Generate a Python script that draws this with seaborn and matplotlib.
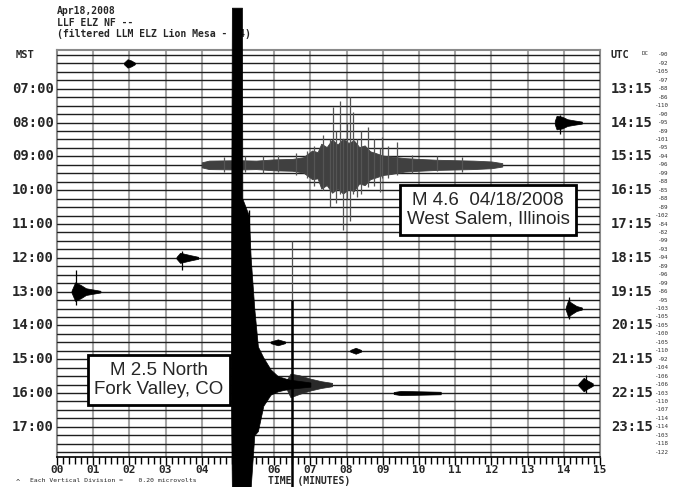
import numpy as np
import pandas as pd
import seaborn as sns
import matplotlib
matplotlib.use("Agg")
from matplotlib import pyplot as plt

# ---- chart values ----
n_traces = 48
mst_labels = ["07:00", "08:00", "09:00", "10:00", "11:00", "12:00",
              "13:00", "14:00", "15:00", "16:00", "17:00"]
utc_labels = ["13:15", "14:15", "15:15", "16:15", "17:15", "18:15",
              "19:15", "20:15", "21:15", "22:15", "23:15"]
dc_values = [-90, -92, -105, -97, -88, -86, -110, -90, -95, -89, -101, -95,
             -94, -96, -99, -88, -85, -88, -89, -102, -84, -82, -99, -93,
             -94, -89, -96, -99, -86, -95, -103, -105, -105, -100, -105, -110,
             -92, -104, -106, -106, -103, -110, -107, -114, -114, -103, -118, -122]
minute_ticks = ["00", "01", "02", "03", "04", "05", "06", "07",
                "08", "09", "10", "11", "12", "13", "14", "15"]

# M 4.6 West Salem event (trace 13): envelope, minutes / up / down (trace units)
wsalem_row = 13
wsalem_min = [4.0, 4.2, 5.0, 5.5, 6.0, 6.5, 6.8, 7.05, 7.2, 7.3, 7.45, 7.6, 7.75, 7.9,
              8.05, 8.2, 8.35, 8.5, 8.65, 8.8, 9.0, 9.2, 9.6, 10.0, 10.5, 11.0, 11.5, 12.0, 12.3]
wsalem_up = [0.3, 0.5, 0.55, 0.5, 0.65, 0.7, 0.9, 1.7, 1.5, 2.5, 2.1, 3.0, 2.4, 3.1,
             2.6, 2.9, 2.1, 2.3, 1.6, 1.4, 1.1, 1.0, 0.8, 0.7, 0.6, 0.55, 0.5, 0.4, 0.2]
wsalem_dn = [0.3, 0.5, 0.55, 0.5, 0.65, 0.7, 0.9, 1.7, 1.6, 2.8, 2.4, 3.3, 2.8, 3.4,
             2.9, 3.1, 2.2, 2.4, 1.7, 1.5, 1.2, 1.1, 0.8, 0.7, 0.6, 0.55, 0.5, 0.4, 0.2]
wsalem_spike_min = [4.6, 5.2, 5.7, 6.1, 6.6, 6.9, 7.1, 7.35, 7.54, 7.62, 7.7, 7.82, 7.9,
                    8.0, 8.1, 8.18, 8.29, 8.4, 8.59, 8.75, 8.92, 8.98, 9.15, 9.39, 9.8, 10.5, 11.2]
wsalem_spike_up = [0.9, 1.0, 1.1, 1.2, 1.4, 1.6, 2.2, 3.5, 3.0, 6.9, 4.0, 7.5, 3.0,
                   5.0, 8.0, 6.3, 3.0, 4.0, 4.5, 3.0, 2.0, 3.3, 2.2, 2.7, 1.2, 1.0, 0.9]
wsalem_spike_dn = [0.8, 0.9, 1.0, 0.8, 1.2, 1.5, 2.5, 3.0, 5.0, 3.2, 4.5, 3.5, 7.7,
                   4.0, 6.7, 3.4, 3.8, 3.5, 2.6, 2.5, 3.2, 1.5, 1.6, 1.2, 1.0, 0.7, 0.8]

# M 2.5 North Fork Valley event (trace 39), saturating the drum
nfv_row = 39
nfv_min = [4.80, 4.83, 5.11, 5.12, 5.30, 5.35, 5.45, 5.55, 5.70, 5.90, 6.10, 6.40, 7.00]
nfv_up = [0.15, 44.6, 44.6, 22.0, 20.0, 15.0, 9.0, 4.5, 3.2, 1.8, 1.0, 0.6, 0.25]
nfv_dn = [0.15, 12.2, 12.2, 12.2, 12.2, 12.2, 6.0, 5.5, 2.5, 1.2, 0.8, 0.5, 0.25]
after_min = [6.0, 6.35, 6.45, 6.7, 7.0, 7.3, 7.6]
after_up = [0.3, 0.6, 1.3, 1.1, 0.7, 0.4, 0.2]
after_dn = [0.3, 0.6, 1.5, 1.1, 0.7, 0.4, 0.2]

# smaller arrivals: (trace, minutes, half amplitude)
small_events = [
    (1, [1.85, 1.95, 2.05, 2.15], [0.1, 0.5, 0.35, 0.1]),
    (8, [13.75, 13.8, 13.95, 14.1, 14.3, 14.5], [0.2, 0.8, 0.7, 0.4, 0.25, 0.12]),
    (24, [3.3, 3.4, 3.55, 3.7, 3.9], [0.1, 0.6, 0.45, 0.3, 0.12]),
    (28, [0.4, 0.5, 0.65, 0.8, 1.0, 1.2], [0.1, 1.1, 0.8, 0.4, 0.25, 0.1]),
    (30, [14.05, 14.12, 14.2, 14.35, 14.5], [0.1, 1.0, 0.7, 0.3, 0.12]),
    (39, [14.4, 14.55, 14.65, 14.8], [0.1, 0.8, 0.5, 0.15]),
    (35, [8.1, 8.25, 8.4], [0.1, 0.35, 0.1]),
    (34, [5.9, 6.1, 6.3], [0.1, 0.35, 0.1]),
    (40, [9.3, 9.5, 10.6], [0.12, 0.25, 0.15]),
]
# short spikes riding on those arrivals: (trace, minute, up, down)
small_spikes = [(8, 13.9, 0.9, 1.3), (24, 3.45, 0.8, 1.5), (28, 0.52, 2.6, 1.6),
                (30, 14.15, 1.4, 1.2), (39, 14.6, 1.1, 1.0)]

sns.set_style("white")
fig = plt.figure(figsize=(6.78, 4.87), dpi=100)
ax = fig.add_axes([57 / 678, 1 - 457 / 487, 543 / 678, 407 / 487])

# flat traces
traces = pd.DataFrame({
    "minute": [0.0, 15.0] * n_traces,
    "level": [-i for i in range(n_traces) for _ in range(2)],
    "trace": [i for i in range(n_traces) for _ in range(2)],
})
sns.lineplot(data=traces, x="minute", y="level", units="trace", estimator=None,
             color="#1e1e1e", lw=1.0, legend=False, ax=ax, zorder=3)

# minute grid
for m in range(1, 15):
    ax.axvline(m, color="#a5a5a5", lw=1.5, zorder=1)

# West Salem
c46 = "#404040"
ax.fill_between(wsalem_min, -wsalem_row + np.array(wsalem_up), -wsalem_row - np.array(wsalem_dn),
                color=c46, lw=0.6, zorder=4)
ax.vlines(wsalem_spike_min, -wsalem_row - np.array(wsalem_spike_dn),
          -wsalem_row + np.array(wsalem_spike_up), color="#555555", lw=0.9, zorder=4)

# North Fork Valley
ax.fill_between(nfv_min, -nfv_row + np.array(nfv_up), -nfv_row - np.array(nfv_dn),
                color="black", lw=0.5, zorder=6, clip_on=False)
ax.fill_between(after_min, -nfv_row + np.array(after_up), -nfv_row - np.array(after_dn),
                color="#2a2a2a", lw=0.5, zorder=5)
ax.vlines([6.48], [-nfv_row - 12.2], [-nfv_row + 10.0], color="black", lw=1.8, zorder=6, clip_on=False)
ax.vlines([6.48], [-nfv_row], [-nfv_row + 17.0], color="#555555", lw=0.9, zorder=5)
ax.vlines([5.3], [-nfv_row - 12.2], [-nfv_row + 20.7], color="black", lw=1.0, zorder=6, clip_on=False)

for row, mins, amp in small_events:
    a = np.array(amp)
    ax.fill_between(mins, -row + a, -row - a, color="black", lw=0.5, zorder=4)
for row, m, up, dn in small_spikes:
    ax.vlines([m], [-row - dn], [-row + up], color="black", lw=0.9, zorder=4)

ax.set_xlim(0, 15)
ax.set_ylim(-47.57, 0.59)
ax.set_xlabel("")
ax.set_ylabel("")
ax.set_yticks([])
ax.set_xticks(range(16))
ax.set_xticks(np.arange(0, 15.01, 1 / 6), minor=True)
ax.set_xticklabels(minute_ticks, family="DejaVu Sans Mono", fontweight="bold", fontsize=8)
ax.tick_params(axis="x", which="major", direction="out", length=6, width=1, color="black", pad=0, bottom=True)
ax.tick_params(axis="x", which="minor", direction="out", length=5, width=1, color="black", bottom=True)
for side in ["top", "left", "right"]:
    ax.spines[side].set_color("#8a8a8a")
    ax.spines[side].set_linewidth(1.5)
ax.spines["bottom"].set_color("black")
ax.spines["bottom"].set_linewidth(1.2)

mono = dict(family="DejaVu Sans Mono", fontweight="bold", zorder=2, clip_on=False)
for k, lab in enumerate(mst_labels):
    ax.text(-0.08, -(k + 1) * 4, lab, ha="right", va="center", fontsize=10, **mono)
for k, lab in enumerate(utc_labels):
    ax.text(15.3, -(k + 1) * 4, lab, ha="left", va="center", fontsize=10, **mono)
ax.text(-1.15, 0, "MST", ha="left", va="center", fontsize=7.5, **mono)
ax.text(15.3, 0, "UTC", ha="left", va="center", fontsize=7.5, **mono)
for i, v in enumerate(dc_values):
    ax.text(16.9, -i, str(v), ha="right", va="center", fontsize=4.2,
            family="DejaVu Sans Mono", color="#333333", clip_on=False)
ax.text(16.15, 0.15, "DC", ha="left", va="center", fontsize=4.2,
        family="DejaVu Sans Mono", color="#333333", clip_on=False)

tf = fig.transFigure
header = ["Apr18,2008", "LLF ELZ NF --", "(filtered LLM ELZ Lion Mesa - L4)"]
for k, line in enumerate(header):
    ax.text(57 / 678, 1 - (11 + 11.5 * k) / 487, line, transform=tf, ha="left", va="center",
            fontsize=7, family="DejaVu Sans Mono", fontweight="bold", zorder=2, clip_on=False)
ax.text(268 / 678, 1 - 481 / 487, "TIME (MINUTES)", transform=tf, ha="left", va="center",
        fontsize=7, family="DejaVu Sans Mono", fontweight="bold", clip_on=False)
ax.text(30 / 678, 1 - 481 / 487, "Each Vertical Division =    0.20 microvolts", transform=tf,
        ha="left", va="center", fontsize=4.6, family="DejaVu Sans Mono", clip_on=False)
ax.text(16 / 678, 1 - 482 / 487, "^", transform=tf, ha="left", va="center",
        fontsize=5, family="DejaVu Sans Mono", clip_on=False)

box = dict(boxstyle="square,pad=0.35", fc="white", ec="black", lw=2)
ax.text(488 / 678, 1 - 210 / 487, "M 4.6  04/18/2008\nWest Salem, Illinois", transform=tf,
        ha="center", va="center", fontsize=13.5, family="Liberation Sans", bbox=box,
        zorder=10, linespacing=1.15)
ax.text(159 / 678, 1 - 380 / 487, "M 2.5 North\nFork Valley, CO", transform=tf,
        ha="center", va="center", fontsize=13.5, family="Liberation Sans", bbox=box,
        zorder=10, linespacing=1.15)

fig.savefig("out.png", dpi=100)
